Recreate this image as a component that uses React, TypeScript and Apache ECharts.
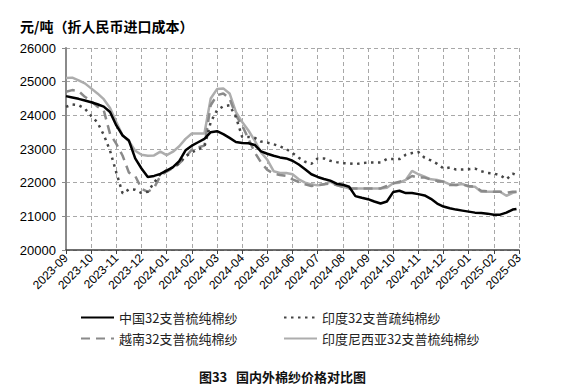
import React, { useEffect, useRef } from "react";
import * as echarts from "echarts";

const monthLabels = [
  "2023-09", "2023-10", "2023-11", "2023-12", "2024-01", "2024-02", "2024-03",
  "2024-04", "2024-05", "2024-06", "2024-07", "2024-08", "2024-09", "2024-10",
  "2024-11", "2024-12", "2025-01", "2025-02", "2025-03",
];

// month offsets from 2023-09 (weekly-ish samples)
const months = [
  0, 0.25, 0.5, 0.75, 1, 1.25, 1.5, 1.75, 2, 2.25, 2.5, 2.75, 3, 3.25, 3.5, 3.75,
  4, 4.25, 4.5, 4.75, 5, 5.25, 5.5, 5.75, 6, 6.25, 6.5, 6.75, 7, 7.25, 7.5, 7.75,
  8, 8.25, 8.5, 8.75, 9, 9.25, 9.5, 9.75, 10, 10.25, 10.5, 10.75, 11, 11.25, 11.5, 11.75,
  12, 12.25, 12.5, 12.75, 13, 13.25, 13.5, 13.75, 14, 14.25, 14.5, 14.75, 15, 15.25, 15.5, 15.75,
  16, 16.25, 16.5, 16.75, 17, 17.25, 17.5, 17.75, 17.9,
];

const china = [
  24570, 24530, 24490, 24440, 24390, 24330, 24260, 24100, 23700, 23400, 23250, 22720, 22420, 22170, 22200, 22260,
  22360, 22460, 22640, 22960, 23100, 23200, 23300, 23500, 23530, 23440, 23330, 23210, 23180, 23170, 23120, 22930,
  22860, 22800, 22750, 22720, 22650, 22540, 22400, 22250, 22170, 22110, 22060, 21970, 21940, 21880, 21600, 21550,
  21510, 21440, 21380, 21440, 21720, 21760, 21690, 21690, 21660, 21620, 21520, 21380, 21290, 21240, 21200, 21170,
  21140, 21110, 21100, 21080, 21050, 21050, 21110, 21200, 21220,
];

const india = [
  24250, 24320, 24300, 24200, 23980, 23790, 23420, 22950, 22300, 21680, 21800, 21790, 21690, 21730, 22000, 22250,
  22370, 22450, 22570, 22780, 22900, 22990, 23060, 23800, 24150, 24270, 24300, 23950, 23360, 23360, 23330, 23220,
  23190, 23140, 23080, 23000, 22880, 22740, 22620, 22560, 22720, 22720, 22650, 22610, 22580, 22570, 22550, 22580,
  22600, 22600, 22600, 22700, 22700, 22700, 22830, 22880, 22910, 22740, 22660, 22560, 22420, 22450, 22390, 22390,
  22400, 22420, 22340, 22290, 22270, 22220, 22100, 22270, 22220,
];

const vietnam = [
  24700, 24750, 24720, 24550, 24420, 24260, 24150, 23450, 23150, 22800, 22300, 22200, 21820, 21730, 21850, 22200,
  22330, 22430, 22570, 22760, 22980, 23050, 23100, 24300, 24600, 24650, 24500, 24000, 23700, 23300, 22900, 22600,
  22380, 22270, 22230, 22200, 22100, 22020, 21950, 21900, 21920, 21950, 21980, 21930, 21880, 21830, 21830, 21830,
  21830, 21830, 21830, 21900, 21980, 22030, 22080, 22200, 22150, 22150, 22090, 22050, 22030, 21930, 21930, 21950,
  21900, 21880, 21760, 21740, 21730, 21730, 21700, 21730, 21730,
];

const indonesia = [
  25110, 25120, 25040, 24950, 24800, 24650, 24480, 24220, 23800, 23400, 23230, 22950, 22830, 22800, 22810, 22920,
  22820, 22920, 23080, 23300, 23460, 23460, 23460, 24500, 24780, 24800, 24650, 24100, 23800, 23550, 23250, 22900,
  22680, 22340, 22290, 22290, 22250, 22100, 22000, 21950, 21920, 21950, 22030, 21930, 21880, 21830, 21830, 21830,
  21830, 21830, 21830, 21850, 21980, 22000, 22080, 22350, 22250, 22180, 22100, 22080, 22030, 21950, 21930, 21960,
  21880, 21880, 21730, 21730, 21730, 21730, 21610, 21700, 21720,
];

const names = [
  "中国32支普梳纯棉纱",
  "印度32支普疏纯棉纱",
  "越南32支普梳纯棉纱",
  "印度尼西亚32支普梳纯棉纱",
];

const pairs = (vals: number[]) => vals.map((v, i) => [months[i], v]);

export default function App() {
  const ref = useRef<HTMLDivElement>(null);
  useEffect(() => {
    if (!ref.current) return;
    const chart = echarts.init(ref.current, null, { renderer: "svg" });
    const font = "'Liberation Sans', Arial, 'Noto Sans CJK SC', sans-serif";
    const cjk = "'Noto Sans CJK SC', sans-serif";
    const legendCommon = {
      orient: "vertical",
      top: 311,
      padding: 0,
      itemWidth: 33,
      itemHeight: 14,
      itemGap: 8,
      itemStyle: { opacity: 0 },
      textStyle: { fontSize: 13, color: "#222", fontFamily: cjk },
    };
    chart.setOption({
      animation: false,
      backgroundColor: "#ffffff",
      title: {
        text: "元/吨（折人民币进口成本）",
        left: 20,
        top: 19,
        padding: 0,
        textStyle: { fontSize: 14, fontWeight: "bold", color: "#000", fontFamily: cjk },
      },
      grid: { left: 66, right: 46, top: 48, bottom: 139 },
      legend: [
        { ...legendCommon, data: [names[0], names[2]], left: 80 },
        { ...legendCommon, data: [names[1], names[3]], left: 283 },
      ],
      xAxis: {
        type: "value",
        min: 0,
        max: 18,
        interval: 1,
        axisLine: { lineStyle: { color: "#404040", width: 1.5 } },
        axisTick: { show: true, length: 4, lineStyle: { color: "#404040" } },
        axisLabel: {
          rotate: 45,
          fontSize: 12,
          color: "#000",
          fontFamily: font,
          margin: 6,
          formatter: (v: number) => monthLabels[Math.round(v)] ?? "",
        },
        splitLine: { show: true, lineStyle: { color: "#a8a8a8", type: [4, 3], width: 1 } },
      },
      yAxis: {
        type: "value",
        min: 20000,
        max: 26000,
        interval: 1000,
        axisLine: { show: true, lineStyle: { color: "#8a8a8a", width: 2 } },
        axisTick: { show: true, length: 4, lineStyle: { color: "#8a8a8a" } },
        axisLabel: {
          fontSize: 13,
          color: "#000",
          fontFamily: font,
          margin: 10,
          formatter: (v: number) => String(v),
        },
        splitLine: { show: true, lineStyle: { color: "#a8a8a8", type: [4, 3], width: 1 } },
      },
      series: [
        {
          name: names[3],
          type: "line",
          data: pairs(indonesia),
          showSymbol: false,
          symbol: "none",
          lineStyle: { color: "#adadad", width: 2.5 },
          itemStyle: { color: "#adadad" },
        },
        {
          name: names[2],
          type: "line",
          data: pairs(vietnam),
          showSymbol: false,
          symbol: "none",
          lineStyle: { color: "#8a8a8a", width: 2.5, type: [9, 6] },
          itemStyle: { color: "#8a8a8a" },
        },
        {
          name: names[1],
          type: "line",
          data: pairs(india),
          showSymbol: false,
          symbol: "none",
          lineStyle: { color: "#454545", width: 2.5, type: [2.5, 4.5] },
          itemStyle: { color: "#454545" },
        },
        {
          name: names[0],
          type: "line",
          data: pairs(china),
          showSymbol: false,
          symbol: "none",
          lineStyle: { color: "#000000", width: 2.5 },
          itemStyle: { color: "#000000" },
        },
      ],
      graphic: [
        {
          type: "text",
          left: "center",
          top: 370,
          style: {
            text: "图33   国内外棉纱价格对比图",
            fontSize: 13,
            fontWeight: "bold",
            fill: "#111",
            fontFamily: cjk,
          },
        },
      ],
    });
    return () => chart.dispose();
  }, []);
  return (
    <div
      ref={ref}
      style={{ position: "fixed", left: 0, top: 0, width: 565, height: 389, background: "#fff" }}
    />
  );
}
